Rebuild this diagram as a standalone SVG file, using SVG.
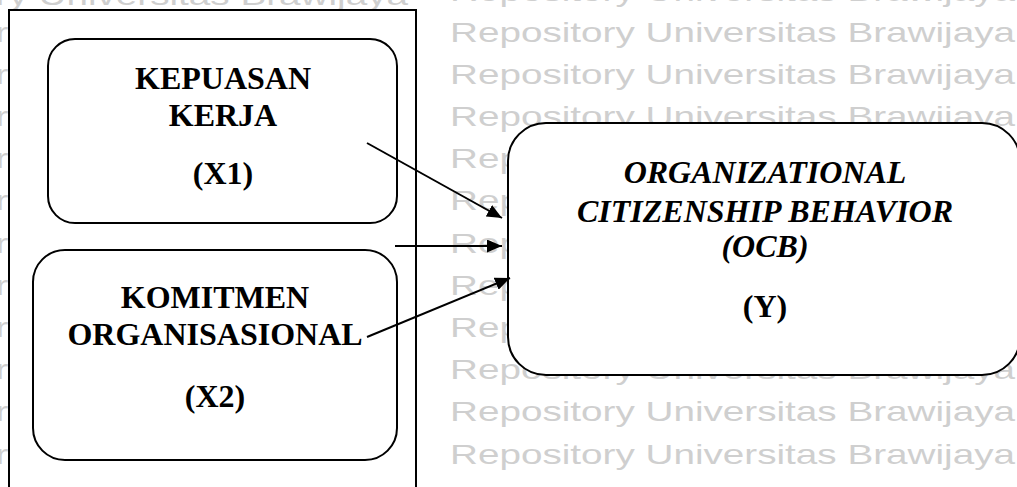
<svg xmlns="http://www.w3.org/2000/svg" width="1017" height="487" viewBox="0 0 1017 487">
<style>
.wm{font-family:"Liberation Sans",Arial,sans-serif;font-size:28px;fill:#cfcfcf}
.box{fill:#fff;stroke:#000;stroke-width:2}
.lbl{font-family:"Liberation Serif","Times New Roman",serif;font-size:32px;font-weight:bold;fill:#000;text-anchor:middle}
.it{font-style:italic}
.conn{stroke:#000;stroke-width:2;fill:none;marker-end:url(#ah)}
</style>
<defs>
<marker id="ah" markerUnits="userSpaceOnUse" markerWidth="16" markerHeight="13" refX="15" refY="6.5" orient="auto">
<path d="M0,0 L15,6.5 L0,13 z" fill="#000"/>
</marker>
</defs>
<rect width="1017" height="487" fill="#fff"/>
<g id="watermark">
<text class="wm" x="450" y="1" textLength="565" lengthAdjust="spacingAndGlyphs">Repository Universitas Brawijaya</text>
<text class="wm" x="450" y="41.5" textLength="565" lengthAdjust="spacingAndGlyphs">Repository Universitas Brawijaya</text>
<text class="wm" x="450" y="83.7" textLength="565" lengthAdjust="spacingAndGlyphs">Repository Universitas Brawijaya</text>
<text class="wm" x="450" y="125.9" textLength="565" lengthAdjust="spacingAndGlyphs">Repository Universitas Brawijaya</text>
<text class="wm" x="450" y="168.1" textLength="565" lengthAdjust="spacingAndGlyphs">Repository Universitas Brawijaya</text>
<text class="wm" x="450" y="210.3" textLength="565" lengthAdjust="spacingAndGlyphs">Repository Universitas Brawijaya</text>
<text class="wm" x="450" y="252.5" textLength="565" lengthAdjust="spacingAndGlyphs">Repository Universitas Brawijaya</text>
<text class="wm" x="450" y="294.7" textLength="565" lengthAdjust="spacingAndGlyphs">Repository Universitas Brawijaya</text>
<text class="wm" x="450" y="336.9" textLength="565" lengthAdjust="spacingAndGlyphs">Repository Universitas Brawijaya</text>
<text class="wm" x="450" y="379.1" textLength="565" lengthAdjust="spacingAndGlyphs">Repository Universitas Brawijaya</text>
<text class="wm" x="450" y="421.3" textLength="565" lengthAdjust="spacingAndGlyphs">Repository Universitas Brawijaya</text>
<text class="wm" x="450" y="463.5" textLength="565" lengthAdjust="spacingAndGlyphs">Repository Universitas Brawijaya</text>
<text class="wm" x="-157" y="5" textLength="565" lengthAdjust="spacingAndGlyphs">Repository Universitas Brawijaya</text>
<text class="wm" x="-157" y="41.5" textLength="565" lengthAdjust="spacingAndGlyphs">Repository Universitas Brawijaya</text>
<text class="wm" x="-157" y="83.7" textLength="565" lengthAdjust="spacingAndGlyphs">Repository Universitas Brawijaya</text>
<text class="wm" x="-157" y="125.9" textLength="565" lengthAdjust="spacingAndGlyphs">Repository Universitas Brawijaya</text>
<text class="wm" x="-157" y="168.1" textLength="565" lengthAdjust="spacingAndGlyphs">Repository Universitas Brawijaya</text>
<text class="wm" x="-157" y="210.3" textLength="565" lengthAdjust="spacingAndGlyphs">Repository Universitas Brawijaya</text>
<text class="wm" x="-157" y="252.5" textLength="565" lengthAdjust="spacingAndGlyphs">Repository Universitas Brawijaya</text>
<text class="wm" x="-157" y="294.7" textLength="565" lengthAdjust="spacingAndGlyphs">Repository Universitas Brawijaya</text>
<text class="wm" x="-157" y="336.9" textLength="565" lengthAdjust="spacingAndGlyphs">Repository Universitas Brawijaya</text>
<text class="wm" x="-157" y="379.1" textLength="565" lengthAdjust="spacingAndGlyphs">Repository Universitas Brawijaya</text>
<text class="wm" x="-157" y="421.3" textLength="565" lengthAdjust="spacingAndGlyphs">Repository Universitas Brawijaya</text>
<text class="wm" x="-157" y="463.5" textLength="565" lengthAdjust="spacingAndGlyphs">Repository Universitas Brawijaya</text>
</g>
<g id="frame">
<rect class="box" x="9" y="10" width="407" height="490"/>
</g>
<g id="x1">
<rect class="box" x="48" y="39" width="349" height="184" rx="27" ry="27"/>
<text class="lbl" x="223" y="89">KEPUASAN</text>
<text class="lbl" x="223" y="126">KERJA</text>
<text class="lbl" x="223" y="184">(X1)</text>
</g>
<g id="x2">
<rect class="box" x="33" y="250" width="364" height="210" rx="32" ry="32"/>
<text class="lbl" x="215" y="308">KOMITMEN</text>
<text class="lbl" x="215" y="345">ORGANISASIONAL</text>
<text class="lbl" x="215" y="407">(X2)</text>
</g>
<g id="y">
<rect class="box" x="508" y="123" width="512" height="252" rx="38" ry="38"/>
<text class="lbl it" x="765" y="183">ORGANIZATIONAL</text>
<text class="lbl it" x="765" y="222">CITIZENSHIP BEHAVIOR</text>
<text class="lbl it" x="765" y="257">(OCB)</text>
<text class="lbl" x="765" y="317">(Y)</text>
</g>
<g id="connectors">
<line class="conn" x1="367" y1="143" x2="502" y2="218"/>
<line class="conn" x1="395" y1="246" x2="502" y2="246"/>
<line class="conn" x1="367" y1="337" x2="510" y2="278"/>
</g>
</svg>
